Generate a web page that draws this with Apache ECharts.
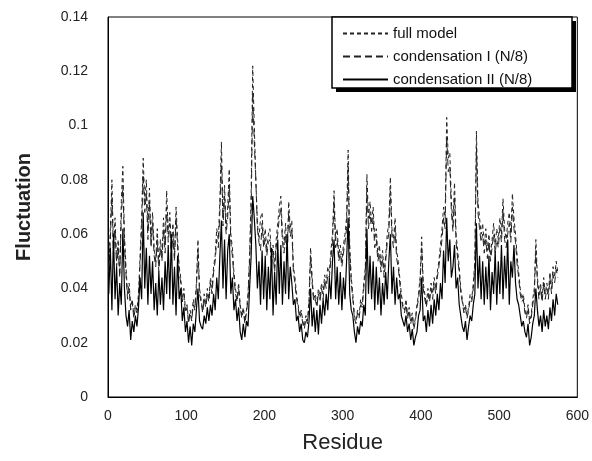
<!DOCTYPE html>
<html>
<head>
<meta charset="utf-8">
<script src="https://cdn.jsdelivr.net/npm/echarts@6/dist/echarts.min.js"></script>
<style>html,body{margin:0;padding:0;background:#fff}#c{width:592px;height:461px}</style>
</head>
<body>
<div id="c"></div>
<script>
// Residues 1,3,5,...,575 (every second residue)
var residueStart = 1, residueStep = 2;
var xTicks = [0, 100, 200, 300, 400, 500, 600];
var yTicks = [0, 0.02, 0.04, 0.06, 0.08, 0.1, 0.12, 0.14];
var seriesNames = ['full model', 'condensation I (N/8)', 'condensation II (N/8)'];

var fullModel = [
.048,.062,.080,.055,.066,.050,.058,.045,.072,.085,
.060,.048,.038,.042,.033,.036,.030,.034,.032,.038,
.052,.066,.088,.072,.080,.062,.077,.058,.068,.055,
.050,.062,.048,.058,.052,.066,.056,.076,.060,.068,
.055,.064,.052,.070,.058,.048,.044,.036,.040,.032,
.034,.028,.032,.029,.036,.033,.042,.058,.040,.036,
.032,.038,.034,.040,.036,.044,.040,.048,.052,.062,
.058,.072,.094,.066,.078,.062,.070,.084,.060,.055,
.046,.040,.036,.042,.034,.030,.033,.028,.032,.038,
.052,.075,.122,.100,.080,.064,.058,.066,.068,.056,
.062,.054,.060,.062,.050,.056,.048,.058,.064,.070,
.074,.060,.056,.064,.052,.072,.062,.065,.048,.044,
.038,.034,.030,.032,.028,.026,.030,.028,.036,.055,
.044,.036,.038,.034,.040,.037,.042,.038,.045,.042,
.048,.046,.054,.060,.076,.058,.062,.052,.056,.050,
.056,.060,.066,.091,.056,.044,.038,.030,.028,.032,
.030,.036,.034,.042,.048,.082,.066,.072,.064,.070,
.058,.062,.052,.056,.048,.054,.046,.052,.060,.064,
.081,.062,.058,.066,.054,.050,.044,.038,.034,.032,
.036,.030,.033,.028,.031,.026,.029,.034,.038,.044,
.059,.042,.038,.034,.040,.036,.042,.038,.044,.040,
.046,.050,.056,.062,.070,.066,.103,.088,.090,.072,
.064,.079,.060,.054,.048,.040,.036,.032,.034,.030,
.033,.038,.036,.042,.050,.098,.072,.066,.060,.064,
.056,.062,.054,.060,.052,.058,.064,.056,.062,.058,
.066,.060,.073,.062,.058,.064,.068,.060,.075,.066,
.060,.052,.046,.040,.036,.038,.032,.030,.034,.028,
.030,.036,.040,.058,.044,.038,.042,.036,.044,.038,
.042,.038,.046,.040,.048,.044,.050,.046
];

var condensationI = [
.046,.058,.074,.052,.062,.048,.055,.044,.066,.078,
.056,.045,.036,.040,.032,.035,.029,.033,.031,.036,
.049,.062,.082,.068,.075,.058,.072,.055,.064,.052,
.048,.058,.046,.055,.050,.062,.053,.070,.057,.064,
.052,.060,.050,.066,.055,.046,.042,.035,.038,.031,
.033,.027,.031,.028,.034,.032,.040,.054,.038,.035,
.031,.036,.033,.038,.035,.042,.038,.046,.050,.058,
.055,.068,.088,.063,.074,.060,.066,.078,.057,.052,
.044,.038,.035,.040,.033,.029,.032,.027,.031,.036,
.050,.068,.112,.094,.080,.062,.057,.054,.064,.055,
.058,.052,.057,.058,.048,.053,.046,.055,.060,.066,
.070,.057,.053,.060,.050,.068,.059,.062,.046,.042,
.036,.033,.029,.031,.027,.025,.029,.027,.034,.052,
.042,.035,.036,.033,.038,.035,.040,.036,.043,.040,
.045,.044,.051,.057,.072,.055,.058,.050,.053,.048,
.053,.057,.062,.085,.053,.042,.036,.029,.027,.031,
.029,.034,.033,.040,.046,.077,.062,.068,.061,.066,
.055,.058,.050,.053,.046,.051,.044,.050,.057,.060,
.076,.059,.055,.062,.051,.048,.042,.036,.033,.031,
.034,.029,.032,.027,.030,.025,.028,.033,.036,.042,
.055,.040,.036,.033,.038,.035,.040,.036,.042,.038,
.044,.048,.053,.058,.066,.062,.096,.083,.085,.068,
.061,.074,.057,.051,.046,.038,.035,.031,.033,.029,
.032,.036,.035,.040,.048,.092,.068,.062,.057,.060,
.053,.058,.051,.057,.050,.055,.060,.053,.058,.055,
.062,.057,.069,.058,.055,.060,.064,.057,.070,.062,
.057,.049,.044,.038,.035,.036,.031,.029,.033,.027,
.029,.034,.038,.054,.042,.036,.040,.035,.042,.036,
.040,.036,.044,.038,.045,.042,.047,.044
];

var condensationII = [
.038,.055,.032,.060,.036,.048,.030,.042,.034,.062,
.040,.030,.026,.032,.021,.028,.024,.030,.026,.033,
.044,.036,.068,.040,.055,.034,.052,.038,.050,.032,
.042,.030,.046,.034,.044,.032,.050,.038,.056,.036,
.060,.034,.048,.030,.052,.036,.040,.028,.033,.024,
.028,.020,.026,.019,.027,.024,.032,.040,.028,.026,
.025,.030,.027,.033,.028,.034,.030,.038,.032,.044,
.036,.052,.065,.040,.058,.036,.054,.060,.038,.044,
.032,.036,.028,.033,.024,.021,.027,.022,.028,.026,
.040,.052,.074,.066,.056,.040,.050,.034,.054,.036,
.052,.032,.048,.036,.055,.030,.046,.034,.058,.038,
.056,.034,.050,.038,.060,.036,.048,.042,.034,.036,
.028,.030,.024,.027,.021,.020,.024,.022,.028,.040,
.026,.033,.024,.032,.023,.034,.027,.036,.030,.038,
.032,.044,.036,.050,.058,.036,.048,.034,.046,.032,
.044,.036,.050,.066,.038,.032,.030,.024,.020,.026,
.023,.028,.026,.034,.030,.062,.038,.052,.036,.050,
.032,.048,.034,.044,.030,.042,.034,.046,.036,.050,
.060,.038,.048,.034,.044,.036,.038,.030,.028,.026,
.030,.024,.027,.021,.025,.019,.022,.024,.030,.032,
.044,.028,.030,.024,.032,.026,.034,.027,.036,.030,
.038,.032,.042,.036,.054,.042,.066,.050,.058,.044,
.048,.056,.040,.044,.034,.030,.026,.024,.028,.021,
.026,.030,.028,.034,.038,.064,.040,.052,.036,.050,
.034,.048,.036,.052,.032,.046,.038,.054,.034,.050,
.038,.056,.036,.052,.040,.058,.034,.050,.044,.056,
.042,.036,.034,.030,.026,.028,.024,.022,.027,.019,
.022,.027,.030,.040,.032,.026,.030,.024,.032,.026,
.030,.025,.033,.028,.036,.030,.038,.034
];

function pairs(vals) {
  var out = [];
  for (var i = 0; i < vals.length; i++) out.push([residueStart + i * residueStep, vals[i]]);
  return out;
}

var FONT = '"Liberation Sans", Arial, sans-serif';
var hidden = { opacity: 0 };
var chart = echarts.init(document.getElementById('c'));
chart.setOption({
  animation: false,
  backgroundColor: '#fff',
  grid: { left: 108, right: 14, top: 17, bottom: 64, show: true, borderColor: '#000', borderWidth: 1, backgroundColor: 'transparent' },
  xAxis: {
    type: 'value', min: xTicks[0], max: xTicks[xTicks.length - 1], interval: 100,
    name: 'Residue', nameLocation: 'middle', nameGap: 35,
    nameTextStyle: { fontFamily: FONT, fontSize: 22, color: '#222' },
    axisLine: { show: true, lineStyle: { color: '#000', width: 1 } },
    axisTick: { show: false },
    splitLine: { show: false },
    axisLabel: { fontFamily: FONT, fontSize: 14, color: '#222', margin: 12 }
  },
  yAxis: {
    type: 'value', min: yTicks[0], max: yTicks[yTicks.length - 1], interval: 0.02,
    name: 'Fluctuation', nameLocation: 'middle', nameGap: 74, nameRotate: 90,
    nameTextStyle: { fontFamily: FONT, fontSize: 20, fontWeight: 'bold', color: '#222' },
    axisLine: { show: true, lineStyle: { color: '#000', width: 1 } },
    axisTick: { show: false },
    splitLine: { show: false },
    axisLabel: { fontFamily: FONT, fontSize: 14, color: '#222', margin: 20,
      formatter: function (v) { return String(Math.round(v * 100) / 100); } }
  },
  legend: {
    orient: 'vertical', left: 342, top: 26, padding: 0,
    itemWidth: 45, itemHeight: 14, itemGap: 8,
    textStyle: { fontFamily: FONT, fontSize: 15, color: '#111' },
    data: [
      { name: seriesNames[0], itemStyle: hidden },
      { name: seriesNames[1], itemStyle: hidden },
      { name: seriesNames[2], itemStyle: hidden }
    ],
    z: 10
  },
  graphic: [
    { type: 'rect', z: 5, shape: { x: 336, y: 21, width: 240, height: 71 }, style: { fill: '#000' } },
    { type: 'rect', z: 6, shape: { x: 332, y: 17, width: 240, height: 71 }, style: { fill: '#fff', stroke: '#000', lineWidth: 1.5 } }
  ],
  series: [
    { name: seriesNames[0], type: 'line', data: pairs(fullModel), symbol: 'none', showSymbol: false,
      lineStyle: { color: '#222', width: 1, type: [4, 3] }, itemStyle: { color: '#000' }, z: 2 },
    { name: seriesNames[1], type: 'line', data: pairs(condensationI), symbol: 'none', showSymbol: false,
      lineStyle: { color: '#222', width: 1, type: [7, 4] }, itemStyle: { color: '#000' }, z: 2 },
    { name: seriesNames[2], type: 'line', data: pairs(condensationII), symbol: 'none', showSymbol: false,
      lineStyle: { color: '#000', width: 1.2 }, itemStyle: { color: '#000' }, z: 3 }
  ]
});
</script>
</body>
</html>
